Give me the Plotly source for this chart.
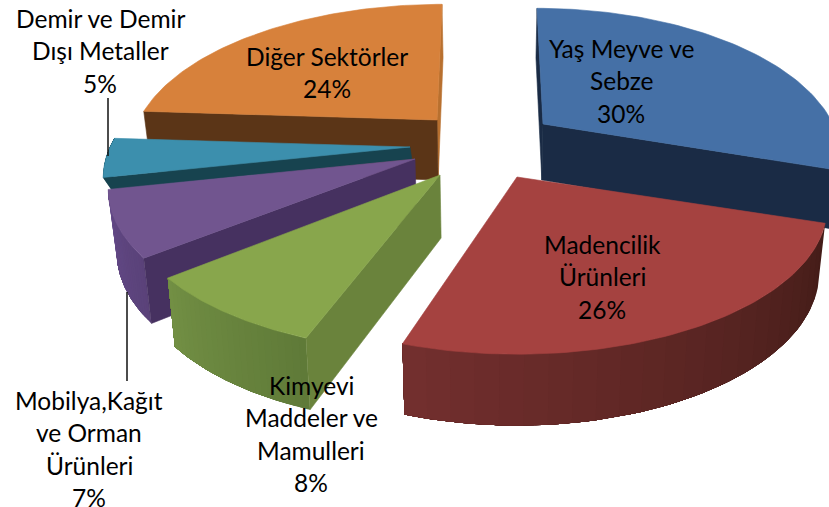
import math
import numpy as np
import plotly.graph_objects as go

# --- data ---
categories = ["Yaş Meyve ve Sebze", "Madencilik Ürünleri", "Kimyevi Maddeler ve Mamulleri",
              "Mobilya,Kağıt ve Orman Ürünleri", "Demir ve Demir Dışı Metaller", "Diğer Sektörler"]
values = [30, 26, 8, 7, 5, 24]

# --- per-slice colours ---
top_colors = ["#4570A6", "#A54240", "#88A64C", "#71558F", "#3C8FAD", "#D7813B"]
inner_colors = ["#1A2B45", "#6E2F2D", "#6A833C", "#463160", "#17434F", "#5B3517"]
outer_left = ["#1A2B45", "#732F2E", "#728F44", "#644A88", "#17434F", "#B8702F"]
outer_right = ["#1A2B45", "#431C18", "#5F7A38", "#5A4279", "#17434F", "#B8702F"]

# --- projection / placement of each exploded slice ---
apex_x = [543, 517, 440, 415, 410, 437]
apex_y = [124, 177, 175, 159, 147, 120]
radius_x = [290, 303, 306, 300, 300, 298]
thickness = [56, 62, 63, 60, 12, 60]
back_lean = [6, 0, 0, 0, 0, -5]
start_trim = [0, 0, -1, 1.5, 2.4, 0]
end_trim = [0, -4, 0, 2.4, 0, 0]
RADIUS_Y = 140
PERSP = 0.21
WALL_PERSP = 0.13
VANISH_X = 490

fig = go.Figure()


def top_pt(i, deg):
    a = math.radians(deg)
    X, Y = math.sin(a), -math.cos(a)
    s = 1 / (1 - PERSP * Y)
    return (apex_x[i] + radius_x[i] * X * s + back_lean[i] * min(Y, 0),
            apex_y[i] + RADIUS_Y * Y * s, Y)


def bottom_pt(i, deg):
    x, y, Y = top_pt(i, deg)
    return (x + (VANISH_X - x) * 0.022, y + thickness[i] / (1 - WALL_PERSP * Y))


def apex_bottom(i):
    return (apex_x[i] + (VANISH_X - apex_x[i]) * 0.022, apex_y[i] + thickness[i])


def poly(xs, ys, color, width=0.6):
    fig.add_trace(go.Scatter(x=list(xs) + [xs[0]], y=list(ys) + [ys[0]], mode="lines",
                             fill="toself", fillcolor=color,
                             line=dict(color=color, width=width),
                             hoverinfo="skip", showlegend=False))


def mix(c1, c2, t):
    a = [int(c1[j:j + 2], 16) for j in (1, 3, 5)]
    b = [int(c2[j:j + 2], 16) for j in (1, 3, 5)]
    return "#%02X%02X%02X" % tuple(round(p + (q - p) * t) for p, q in zip(a, b))


def inner_wall(i, deg, color):
    x, y, _ = top_pt(i, deg)
    xb, yb = bottom_pt(i, deg)
    ax, ay = apex_bottom(i)
    poly([apex_x[i], x, xb, ax], [apex_y[i], y, yb, ay], color)


def outer_wall(i, a0, a1):
    n = 24
    angs = np.linspace(a0, a1, n + 1)
    for j in range(n):
        # every band runs on under its neighbours, so no seam shows through
        sub = np.linspace(angs[j], a1, 2 * (n - j) + 1)
        tops = [top_pt(i, a) for a in sub]
        bots = [bottom_pt(i, a) for a in sub]
        poly([p[0] for p in tops] + [q[0] for q in reversed(bots)],
             [p[1] for p in tops] + [q[1] for q in reversed(bots)],
             mix(outer_left[i], outer_right[i], 1 - (j + .5) / n), width=0)


def top_face(i, a0, a1):
    angs = np.linspace(a0, a1, 80)
    pts = [top_pt(i, a) for a in angs]
    poly([apex_x[i]] + [p[0] for p in pts], [apex_y[i]] + [p[1] for p in pts], top_colors[i])


total = sum(values)
edges = np.concatenate([[0], np.cumsum(values)]) * 360 / total
start = [edges[i] + start_trim[i] for i in range(len(values))]
stop = [edges[i + 1] + end_trim[i] for i in range(len(values))]

# painter's order, back to front
draw_order = [5, 4, 3, 2, 0, 1]
for i in draw_order:
    a0, a1 = start[i], stop[i]
    if i == 5:      # orange
        inner_wall(i, a1, "#B8702F")
        inner_wall(i, a0, inner_colors[i])
    elif i == 0:    # blue
        inner_wall(i, a0, inner_colors[i])
        inner_wall(i, a1, inner_colors[i])
    elif i == 1:    # red
        outer_wall(i, a0, a1)
    else:           # green, purple, teal
        outer_wall(i, a0, a1)
        inner_wall(i, a0, inner_colors[i])
    top_face(i, a0, a1)

# --- leader lines ---
leader_x = [[108, 108], [127, 127]]
leader_y = [[98, 156], [292, 381]]
for lx, ly in zip(leader_x, leader_y):
    fig.add_trace(go.Scatter(x=lx, y=ly, mode="lines", line=dict(color="#111111", width=1.5),
                             hoverinfo="skip", showlegend=False))

# --- labels, one entry per text line ---
label_lines = [
    ["Yaş Meyve ve", "Sebze", "30%"],
    ["Madencilik", "Ürünleri", "26%"],
    ["Kimyevi", "Maddeler ve", "Mamulleri", "8%"],
    ["Mobilya,Kağıt", "ve Orman", "Ürünleri", "7%"],
    ["Demir ve Demir", "Dışı Metaller", "5%"],
    ["Diğer Sektörler", "24%"],
]
label_x = [621, 602, 311, 89, 100, 327]
label_y = [48, 244, 385, 400, 18, 56]
LINE_GAP = 32.6
for lines, lx, ly in zip(label_lines, label_x, label_y):
    for n, t in enumerate(lines):
        fig.add_annotation(x=lx, y=ly + n * LINE_GAP, text=t, showarrow=False,
                           xanchor="center", yanchor="middle",
                           font=dict(family="Lato", size=24.5, color="#000000"))

fig.update_layout(width=829, height=507, margin=dict(l=0, r=0, t=0, b=0),
                  paper_bgcolor="white", plot_bgcolor="white", showlegend=False,
                  xaxis=dict(range=[0, 829], visible=False, fixedrange=True),
                  yaxis=dict(range=[507, 0], visible=False, fixedrange=True))
fig.write_html("out.html", config={"displayModeBar": False},
               post_script="document.body.style.margin='0';")
